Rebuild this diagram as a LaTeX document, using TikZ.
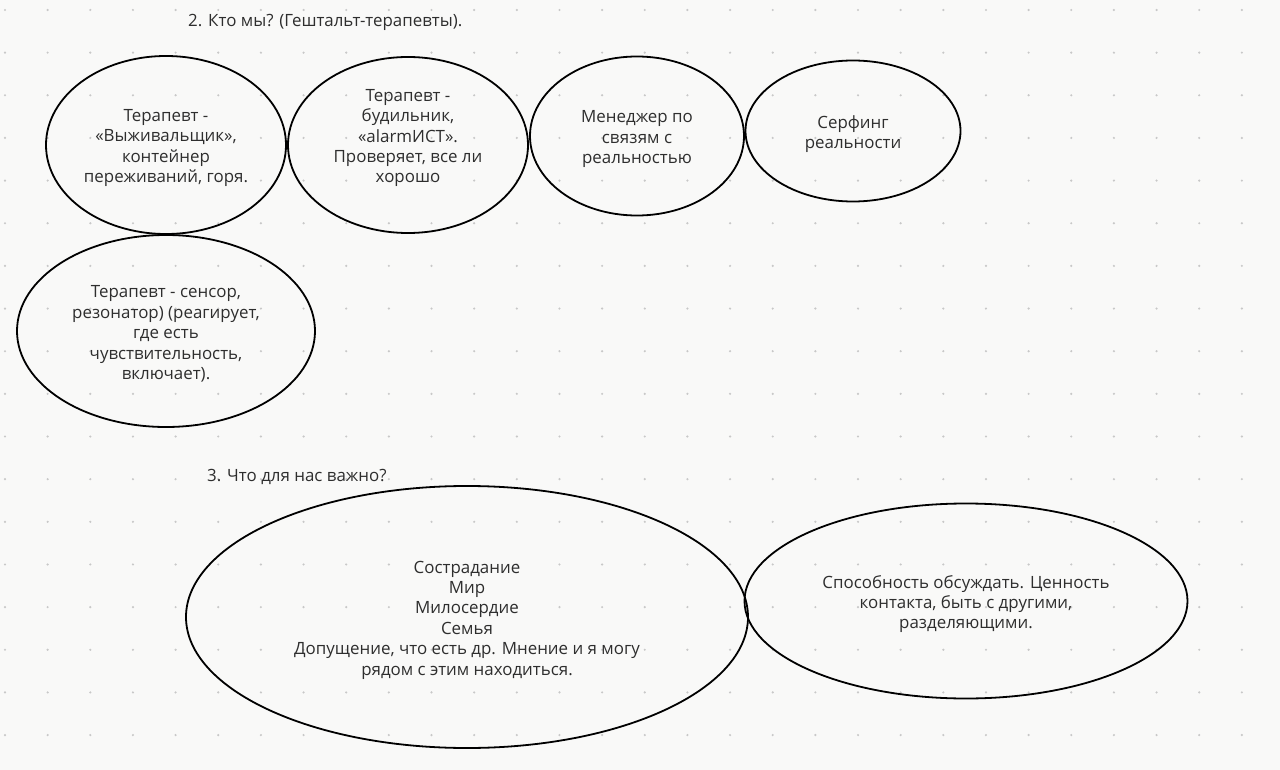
\documentclass[tikz,border=0pt]{standalone}
\usepackage{fontspec}
\setmainfont{Open Sans}
\usetikzlibrary{shapes.geometric}
\definecolor{bgc}{HTML}{F9F9F8}
\definecolor{dotc}{HTML}{C8C8C8}
\definecolor{txtc}{HTML}{2E2E2E}
\tikzset{
  oval/.style={ellipse, draw=black, line width=1.8pt, inner sep=0pt},
  txt/.style={text=txtc, align=center, font=\fontsize{16.9}{20.4}\selectfont, inner sep=0pt, yshift=-3pt},
  head/.style={text=txtc, anchor=west, font=\fontsize{16.9}{20.4}\selectfont, inner sep=0pt}
}
\begin{document}
\begin{tikzpicture}[x=1pt,y=-1pt]
\fill[bgc] (0,0) rectangle (1280,770);
\useasboundingbox (0,0) rectangle (1280,770);
\foreach \i in {0,...,29}{\foreach \j in {0,...,17}{\fill[dotc] ({5+42.65*\i},{10+42.65*\j}) circle (1.2pt);}}
\node[head] (h2) at (188,22.5) {2. Кто мы? (Гештальт-терапевты).};
\node[head] (h3) at (207,476.5) {3. Что для нас важно?};
\node[oval, minimum width=240pt, minimum height=178pt] (e1) at (166,145) {};
\node[oval, minimum width=240pt, minimum height=176pt] (e2) at (408,145) {};
\node[oval, minimum width=214pt, minimum height=159pt] (e3) at (637,136) {};
\node[oval, minimum width=215pt, minimum height=141pt] (e4) at (853,131) {};
\node[oval, minimum width=298pt, minimum height=192pt] (e5) at (166,331) {};
\node[oval, minimum width=562pt, minimum height=262pt] (e6) at (467,617) {};
\node[oval, minimum width=443pt, minimum height=195pt] (e7) at (966,601) {};
\node[txt] (t1) at (e1.center) {Терапевт -\\«Выживальщик»,\\контейнер\\переживаний, горя.};
\node[txt] (t2) at ([yshift=10pt]e2.center) {Терапевт -\\будильник,\\«alarmИСТ».\\Проверяет, все ли\\хорошо};
\node[txt] (t3) at (e3.center) {Менеджер по\\связям с\\реальностью};
\node[txt] (t4) at (e4.center) {Серфинг\\реальности};
\node[txt] (t5) at (e5.center) {Терапевт - сенсор,\\резонатор) (реагирует,\\где есть\\чувствительность,\\включает).};
\node[txt] (t6) at (e6.center) {Сострадание\\Мир\\Милосердие\\Семья\\Допущение, что есть др. Мнение и я могу\\рядом с этим находиться.};
\node[txt] (t7) at (e7.center) {Способность обсуждать. Ценность\\контакта, быть с другими,\\разделяющими.};
\end{tikzpicture}
\end{document}
